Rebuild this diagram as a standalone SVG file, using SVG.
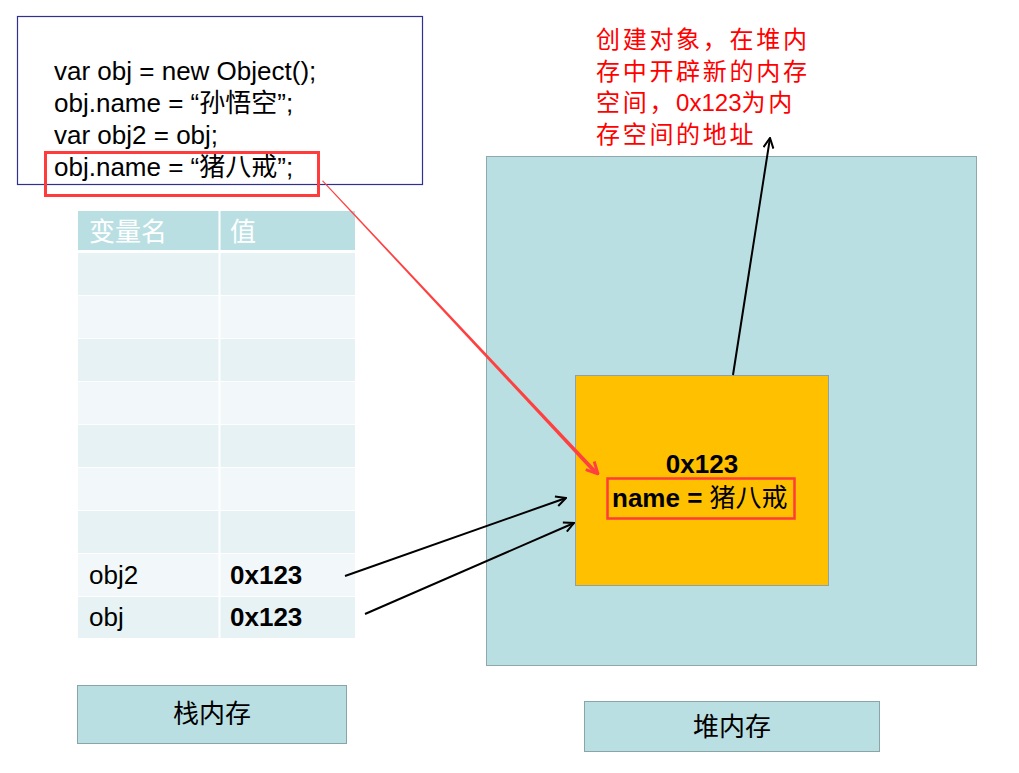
<svg xmlns="http://www.w3.org/2000/svg" width="1019" height="773" viewBox="0 0 1019 773">
<style>
.code{font-family:"Liberation Sans","Noto Sans CJK SC",sans-serif;font-size:26px;fill:#000}
.cell{font-family:"Liberation Sans","Noto Sans CJK SC",sans-serif;font-size:26px;fill:#000}
.b{font-weight:bold}
.n{font-weight:normal}
.hdr{font-family:"Noto Sans CJK SC",sans-serif;font-size:26px;fill:#fff}
.lbl{font-family:"Noto Sans CJK SC",sans-serif;font-size:26px;fill:#000}
.note{font-family:"Liberation Sans","Noto Sans CJK SC",sans-serif;font-size:24px;fill:#FF0000;letter-spacing:2.7px}
.ns{letter-spacing:0}
.dark{fill:#E6F2F4}
.light{fill:#F2F8FA}
.blk{stroke:#000;stroke-width:2;fill:none}
</style>
<defs>
<marker id="ah" viewBox="0 0 12 12" refX="11" refY="6" markerWidth="12" markerHeight="12" markerUnits="userSpaceOnUse" orient="auto">
<path d="M1,1 L11,6 L1,11" fill="none" stroke="#000" stroke-width="2"/>
</marker>
<marker id="rah" viewBox="0 0 12 12" refX="11" refY="6" markerWidth="14" markerHeight="14" markerUnits="userSpaceOnUse" orient="auto">
<path d="M1,1 L11,6 L1,11" fill="none" stroke="#FF4040" stroke-width="2.5"/>
</marker>
</defs>
<rect width="1019" height="773" fill="#fff"/>

<g id="heap">
<rect x="486.5" y="156.5" width="490" height="509" fill="#BADFE3" stroke="#8FA8AD" stroke-width="1"/>
</g>

<g id="code">
<rect x="17.5" y="16.5" width="405" height="168" fill="#fff" stroke="#2E3192" stroke-width="1.2"/>
<text class="code" x="54" y="80">var obj = new Object();</text>
<text class="code" x="54" y="112">obj.name = “孙悟空”;</text>
<text class="code" x="54" y="144">var obj2 = obj;</text>
<text class="code" x="54" y="176">obj.name = “猪八戒”;</text>
<rect x="45.5" y="152.5" width="273" height="43" fill="none" stroke="#FF3B3B" stroke-width="3"/>
</g>

<g id="stack-table">
<rect x="78" y="211" width="277" height="39" fill="#BADFE3"/>
<rect x="78" y="253" width="277" height="42" class="dark"/>
<rect x="78" y="296" width="277" height="42" class="light"/>
<rect x="78" y="339" width="277" height="42" class="dark"/>
<rect x="78" y="382" width="277" height="42" class="light"/>
<rect x="78" y="425" width="277" height="42" class="dark"/>
<rect x="78" y="468" width="277" height="42" class="light"/>
<rect x="78" y="511" width="277" height="42" class="dark"/>
<rect x="78" y="554" width="277" height="42" class="light"/>
<rect x="78" y="597" width="277" height="41" class="dark"/>
<line x1="219.5" y1="211" x2="219.5" y2="638" stroke="#fff" stroke-width="2"/>
<text class="hdr" x="89" y="241">变量名</text>
<text class="hdr" x="230" y="241">值</text>
<text class="cell" x="89" y="584">obj2</text>
<text class="cell b" x="230" y="584">0x123</text>
<text class="cell" x="89" y="626">obj</text>
<text class="cell b" x="230" y="626">0x123</text>
</g>

<g id="object">
<rect x="575.5" y="375.5" width="253" height="210" fill="#FFC000" stroke="#8FA0A8" stroke-width="1"/>
<text class="code b" x="702" y="473" text-anchor="middle">0x123</text>
<text class="code b" x="612" y="507">name = <tspan class="n">猪八戒</tspan></text>
<rect x="607.5" y="478.5" width="187" height="40" fill="none" stroke="#FF3B3B" stroke-width="2.5"/>
</g>

<g id="note">
<text class="note" x="596" y="48">创建对象，在堆内</text>
<text class="note" x="596" y="80">存中开辟新的内存</text>
<text class="note" x="596" y="111">空间，<tspan class="ns">0x123</tspan>为内</text>
<text class="note" x="596" y="143">存空间的地址</text>
</g>

<g id="stack-label">
<rect x="77.5" y="685.5" width="269" height="58" fill="#BADFE3" stroke="#8AA5A8" stroke-width="1"/>
<text class="lbl" x="212" y="723" text-anchor="middle">栈内存</text>
</g>

<g id="heap-label">
<rect x="584.5" y="701.5" width="295" height="50" fill="#BADFE3" stroke="#8AA5A8" stroke-width="1"/>
<text class="lbl" x="732" y="736" text-anchor="middle">堆内存</text>
</g>

<g id="connectors">
<line class="blk" x1="733" y1="375" x2="770" y2="138" marker-end="url(#ah)"/>
<line class="blk" x1="345" y1="576" x2="566" y2="498" marker-end="url(#ah)"/>
<line class="blk" x1="365" y1="614" x2="574" y2="523" marker-end="url(#ah)"/>
<polygon points="322,181 323,180.5 597,471 594,473.5" fill="#FF4040"/>
<line x1="560" y1="434" x2="598" y2="474" stroke="#FF4040" stroke-width="0.01" fill="none" marker-end="url(#rah)"/>
</g>
</svg>
